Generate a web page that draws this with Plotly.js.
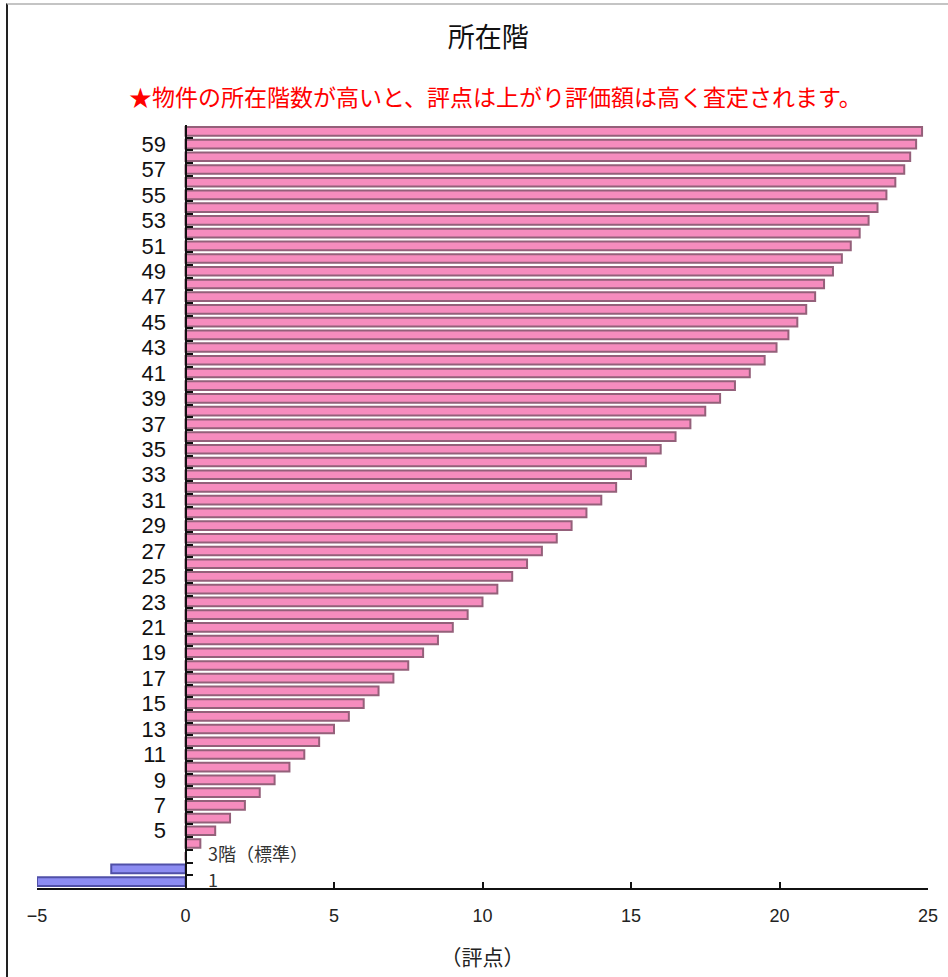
<!DOCTYPE html>
<html>
<head>
<meta charset="utf-8">
<script src="https://cdn.plot.ly/plotly-3.0.1.min.js"></script>
<style>
  html, body { margin: 0; padding: 0; background: #fff; }
  #frame { position: absolute; left: 6px; top: 3px; width: 942px; height: 974px;
           border-left: 2px solid #222; border-top: 2px solid #c4c4c4; box-sizing: border-box; }
  #chart { position: absolute; left: 0; top: 0; width: 948px; height: 977px; }
</style>
</head>
<body>
<div id="frame"></div>
<div id="chart"></div>
<script>
// ---- data ----
const floors = [1,2,3,4,5,6,7,8,9,10,11,12,13,14,15,16,17,18,19,20,
                21,22,23,24,25,26,27,28,29,30,31,32,33,34,35,36,37,38,39,40,
                41,42,43,44,45,46,47,48,49,50,51,52,53,54,55,56,57,58,59,60];
const scores = [-5, -2.5, 0, 0.5, 1, 1.5, 2, 2.5, 3, 3.5,
                4, 4.5, 5, 5.5, 6, 6.5, 7, 7.5, 8, 8.5,
                9, 9.5, 10, 10.5, 11, 11.5, 12, 12.5, 13, 13.5,
                14, 14.5, 15, 15.5, 16, 16.5, 17, 17.5, 18, 18.5,
                19, 19.5, 19.9, 20.3, 20.6, 20.9, 21.2, 21.5, 21.8, 22.1,
                22.4, 22.7, 23.0, 23.3, 23.6, 23.9, 24.2, 24.4, 24.6, 24.8];
const leftTickVals = [5,7,9,11,13,15,17,19,21,23,25,27,29,31,33,35,37,39,41,43,45,47,49,51,53,55,57,59];
const leftTickText = ['5','7','9','11','13','15','17','19','21','23','25','27','29','31','33','35','37','39','41','43','45','47','49','51','53','55','57','59'];
const rightLabelFloors = [1, 3];
const rightLabelText = ['1', '3階（標準）'];
const xTickVals = [-5, 0, 5, 10, 15, 20, 25];
const titleText = '所在階';
const subtitleText = '★物件の所在階数が高いと、評点は上がり評価額は高く査定されます。';
const xTitleText = '（評点）';

// ---- styles ----
const pinkFill = '#f68cbe', pinkLine = '#94607a';
const blueFill = '#8c8cf2', blueLine = '#5050a8';
const fillColors = scores.map(v => v < 0 ? blueFill : pinkFill);
const lineColors = scores.map(v => v < 0 ? blueLine : pinkLine);
const boundaryTicks = floors.map(f => f - 0.5).concat([floors[floors.length - 1] + 0.5]);

const yRange = [0.5, 60.5];
const xRange = [-5, 25];
const axisPos = (0 - xRange[0]) / (xRange[1] - xRange[0]);

const numFont = 'Liberation Sans, Arial, sans-serif';
const jpFont = 'Noto Sans CJK JP, sans-serif';

const trace = {
  type: 'bar', orientation: 'h',
  x: scores, y: floors,
  marker: { color: fillColors, line: { color: lineColors, width: 2 } },
  hoverinfo: 'x+y'
};

const layout = {
  width: 948, height: 977,
  margin: { l: 37, r: 20, t: 125, b: 89 },
  paper_bgcolor: 'rgba(0,0,0,0)', plot_bgcolor: 'rgba(0,0,0,0)',
  showlegend: false,
  bargap: 0.32,
  title: { text: titleText, x: 0.515, xanchor: 'center', y: 1 - 38 / 977, yref: 'container', yanchor: 'middle',
           font: { family: jpFont, size: 27, color: '#111' } },
  xaxis: {
    range: xRange, tickvals: xTickVals, ticktext: xTickVals.map(v => v < 0 ? '\u2212' + Math.abs(v) : String(v)),
    showgrid: false, zeroline: false,
    showline: true, linecolor: '#111', linewidth: 2,
    ticks: 'inside', ticklen: 6, tickwidth: 2, tickcolor: '#111',
    ticklabelstandoff: 10,
    tickfont: { family: numFont, size: 18, color: '#222' },
    title: { text: xTitleText, font: { family: jpFont, size: 21, color: '#222' }, standoff: 26 }
  },
  yaxis: {
    range: yRange, anchor: 'free', position: axisPos, side: 'left',
    tickvals: leftTickVals, ticktext: leftTickText,
    showgrid: false, zeroline: false,
    showline: true, linecolor: '#111', linewidth: 2,
    ticks: '', ticklabelstandoff: 14,
    tickfont: { family: numFont, size: 22, color: '#111' }
  },
  yaxis2: {
    range: yRange, overlaying: 'y', anchor: 'free', position: axisPos, side: 'left',
    tickvals: boundaryTicks, showticklabels: false,
    showgrid: false, zeroline: false, showline: false,
    ticks: 'inside', ticklen: 6, tickwidth: 2, tickcolor: '#111'
  },
  annotations: [
    { text: subtitleText, xref: 'paper', yref: 'paper', x: 0.515, y: 1, yshift: 29, xanchor: 'center', yanchor: 'middle',
      showarrow: false, font: { family: jpFont, size: 23, color: '#ff0000' } }
  ].concat(rightLabelFloors.map((f, i) => ({
      text: rightLabelText[i], x: 0, y: f, xref: 'x', yref: 'y', xanchor: 'left', yanchor: 'middle',
      xshift: 20, yshift: 3, showarrow: false, font: { family: jpFont, size: 18, color: '#333' }
  })))
};

const dummy = { type: 'scatter', x: [], y: [], yaxis: 'y2', hoverinfo: 'skip' };

Plotly.newPlot('chart', [trace, dummy], layout, { displayModeBar: false, staticPlot: true });
</script>
</body>
</html>
